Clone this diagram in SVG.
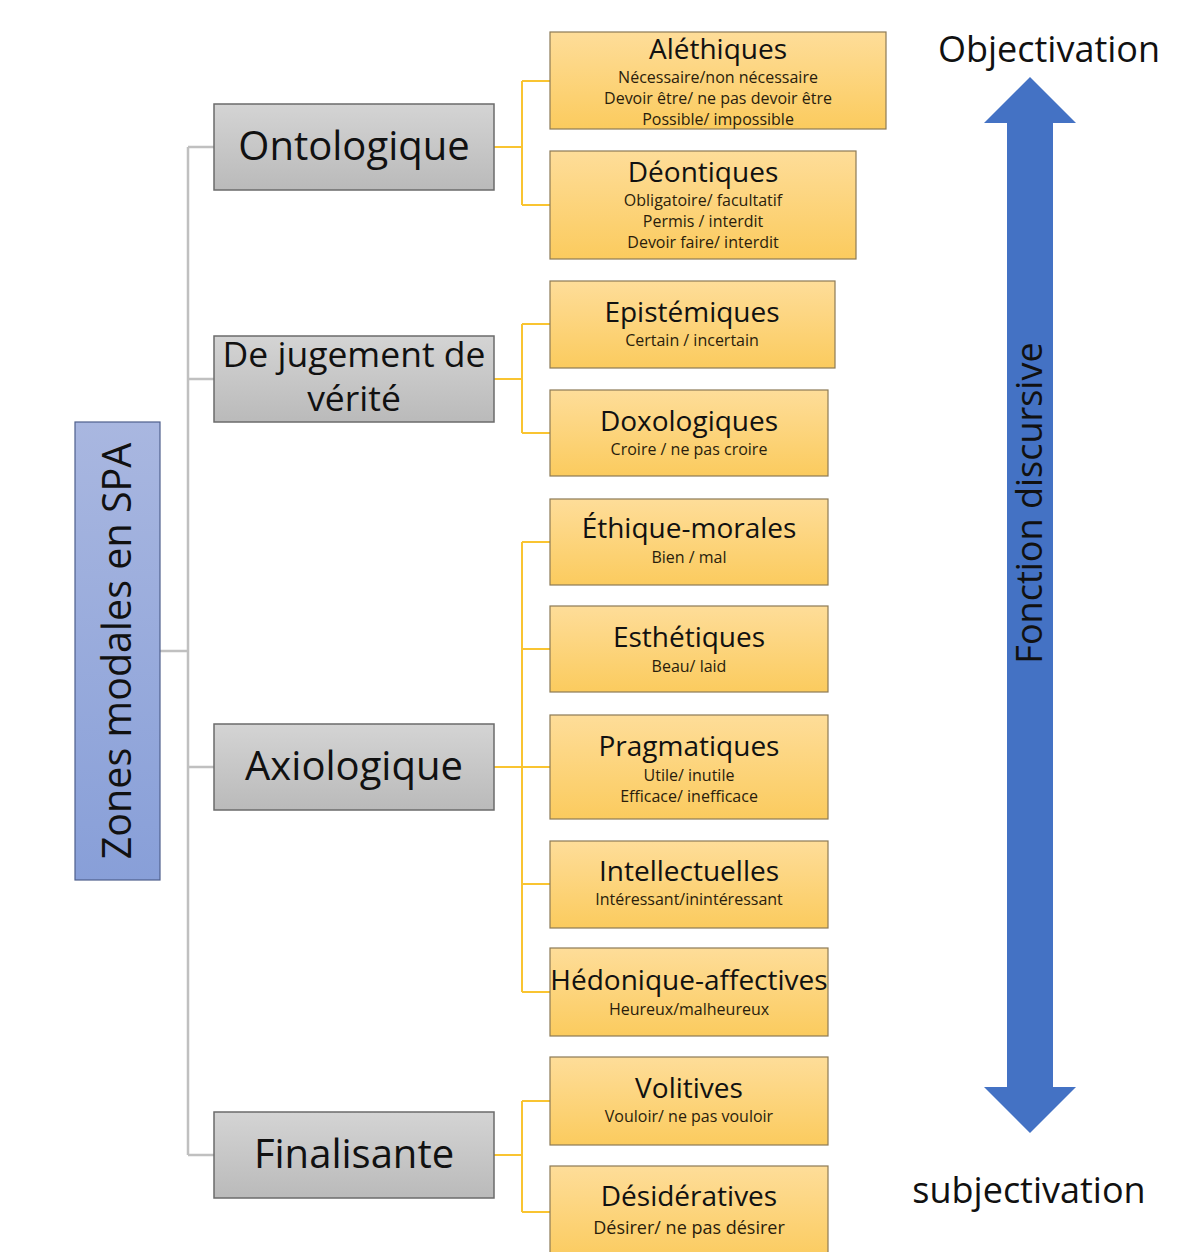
<svg xmlns="http://www.w3.org/2000/svg" width="1200" height="1252" viewBox="0 0 1200 1252">
  <style>
    text { font-family: "Open Sans", "Liberation Sans", sans-serif; text-anchor: middle; fill: #111; }
    .root { fill: url(#gBlue); stroke: #4f5f8c; stroke-width: 1.2; }
    .cat { fill: url(#gGray); stroke: #6b6b6b; stroke-width: 1.5; }
    .leaf { fill: url(#gGold); stroke: #8c7a55; stroke-width: 1.2; }
    .t-root { font-size: 39.5px; }
    .t-cat { font-size: 40px; }
    .t-cat2 { font-size: 35.5px; }
    .t-leaf { font-size: 28px; }
    .t-sub { font-size: 16px; fill: #2a1d0c; }
    .t-sub2 { font-size: 18px; fill: #2a1d0c; }
    .t-side { font-size: 36px; }
    .gray { stroke: #c0c0c0; stroke-width: 2.5; fill: none; }
    .gold { stroke: #f9c431; stroke-width: 2; fill: none; }
  </style>
  <defs>
    <linearGradient id="gBlue" x1="0" y1="0" x2="0" y2="1">
      <stop offset="0" stop-color="#a9b7e0"/>
      <stop offset="1" stop-color="#889fd8"/>
    </linearGradient>
    <linearGradient id="gGray" x1="0" y1="0" x2="0" y2="1">
      <stop offset="0" stop-color="#d4d4d4"/>
      <stop offset="1" stop-color="#bababa"/>
    </linearGradient>
    <linearGradient id="gGold" x1="0" y1="0" x2="0" y2="1">
      <stop offset="0" stop-color="#fedd99"/>
      <stop offset="1" stop-color="#fbcb5e"/>
    </linearGradient>
  </defs>

  <!-- connectors -->
  <g id="connectors">
    <path class="gray" d="M160 651 H188 M188 147 V1155 M188 147 H214 M188 379 H214 M188 767 H214 M188 1155 H214"/>
    <path class="gold" d="M494 147 H522 M522 81 V205 M522 81 H550 M522 205 H550"/>
    <path class="gold" d="M494 379 H522 M522 324 V433 M522 324 H550 M522 433 H550"/>
    <path class="gold" d="M494 767 H522 M522 542 V992 M522 542 H550 M522 649 H550 M522 767 H550 M522 884 H550 M522 992 H550"/>
    <path class="gold" d="M494 1155 H522 M522 1101 V1212 M522 1101 H550 M522 1212 H550"/>
  </g>

  <!-- root -->
  <g id="root">
    <rect class="root" x="75" y="422" width="85" height="458"/>
    <text class="t-root" transform="translate(131 651) rotate(-90)">Zones modales en SPA</text>
  </g>

  <!-- categories -->
  <g id="ontologique">
    <rect class="cat" x="214" y="104" width="280" height="86"/>
    <text class="t-cat" x="354" y="160">Ontologique</text>
  </g>
  <g id="jugement">
    <rect class="cat" x="214" y="336" width="280" height="86"/>
    <text class="t-cat2" x="354" y="367">De jugement de</text>
    <text class="t-cat2" x="354" y="411">vérité</text>
  </g>
  <g id="axiologique">
    <rect class="cat" x="214" y="724" width="280" height="86"/>
    <text class="t-cat" x="354" y="780">Axiologique</text>
  </g>
  <g id="finalisante">
    <rect class="cat" x="214" y="1112" width="280" height="86"/>
    <text class="t-cat" x="354" y="1168">Finalisante</text>
  </g>

  <!-- leaves -->
  <g id="alethiques">
    <rect class="leaf" x="550" y="32" width="336" height="97"/>
    <text class="t-leaf" x="718" y="59">Aléthiques</text>
    <text class="t-sub" x="718" y="83">Nécessaire/non nécessaire</text>
    <text class="t-sub" x="718" y="104">Devoir être/ ne pas devoir être</text>
    <text class="t-sub" x="718" y="125">Possible/ impossible</text>
  </g>
  <g id="deontiques">
    <rect class="leaf" x="550" y="151" width="306" height="108"/>
    <text class="t-leaf" x="703" y="182">Déontiques</text>
    <text class="t-sub" x="703" y="206">Obligatoire/ facultatif</text>
    <text class="t-sub" x="703" y="227">Permis / interdit</text>
    <text class="t-sub" x="703" y="248">Devoir faire/ interdit</text>
  </g>
  <g id="epistemiques">
    <rect class="leaf" x="550" y="281" width="285" height="87"/>
    <text class="t-leaf" x="692" y="322">Epistémiques</text>
    <text class="t-sub" x="692" y="346">Certain / incertain</text>
  </g>
  <g id="doxologiques">
    <rect class="leaf" x="550" y="390" width="278" height="86"/>
    <text class="t-leaf" x="689" y="431">Doxologiques</text>
    <text class="t-sub" x="689" y="455">Croire / ne pas croire</text>
  </g>
  <g id="ethique">
    <rect class="leaf" x="550" y="499" width="278" height="86"/>
    <text class="t-leaf" x="689" y="538">Éthique-morales</text>
    <text class="t-sub" x="689" y="563">Bien / mal</text>
  </g>
  <g id="esthetiques">
    <rect class="leaf" x="550" y="606" width="278" height="86"/>
    <text class="t-leaf" x="689" y="647">Esthétiques</text>
    <text class="t-sub" x="689" y="672">Beau/ laid</text>
  </g>
  <g id="pragmatiques">
    <rect class="leaf" x="550" y="715" width="278" height="104"/>
    <text class="t-leaf" x="689" y="756">Pragmatiques</text>
    <text class="t-sub" x="689" y="781">Utile/ inutile</text>
    <text class="t-sub" x="689" y="802">Efficace/ inefficace</text>
  </g>
  <g id="intellectuelles">
    <rect class="leaf" x="550" y="841" width="278" height="87"/>
    <text class="t-leaf" x="689" y="881">Intellectuelles</text>
    <text class="t-sub" x="689" y="905">Intéressant/inintéressant</text>
  </g>
  <g id="hedonique">
    <rect class="leaf" x="550" y="948" width="278" height="88"/>
    <text class="t-leaf" x="689" y="990">Hédonique-affectives</text>
    <text class="t-sub" x="689" y="1015">Heureux/malheureux</text>
  </g>
  <g id="volitives">
    <rect class="leaf" x="550" y="1057" width="278" height="88"/>
    <text class="t-leaf" x="689" y="1098">Volitives</text>
    <text class="t-sub" x="689" y="1122">Vouloir/ ne pas vouloir</text>
  </g>
  <g id="desideratives">
    <rect class="leaf" x="550" y="1166" width="278" height="95"/>
    <text class="t-leaf" x="689" y="1206">Désidératives</text>
    <text class="t-sub2" x="689" y="1234">Désirer/ ne pas désirer</text>
  </g>

  <!-- discursive axis -->
  <g id="axis">
    <polygon fill="#4472c4" points="1030,77 1076,123 1053,123 1053,1087 1076,1087 1030,1133 984,1087 1007,1087 1007,123 984,123"/>
    <text class="t-side" transform="translate(1042 503) rotate(-90)">Fonction discursive</text>
    <text class="t-side" x="1049" y="62">Objectivation</text>
    <text class="t-side" x="1029" y="1203">subjectivation</text>
  </g>
</svg>
